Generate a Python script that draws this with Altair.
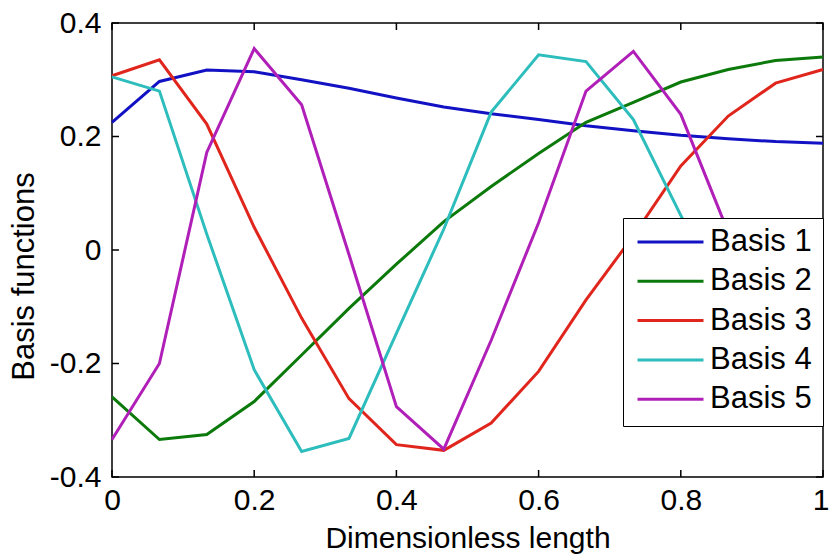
import altair as alt
import pandas as pd

# Sample positions along the dimensionless length (16 nodes)
x_nodes = [0.0, 0.0667, 0.1333, 0.2, 0.2667, 0.3333, 0.4, 0.4667,
           0.5333, 0.6, 0.6667, 0.7333, 0.8, 0.8667, 0.9333, 1.0]

basis_1 = [0.225, 0.297, 0.317, 0.314, 0.300, 0.285, 0.268, 0.252,
           0.240, 0.230, 0.219, 0.210, 0.202, 0.196, 0.191, 0.188]
basis_2 = [-0.259, -0.334, -0.325, -0.267, -0.185, -0.103, -0.025, 0.050,
           0.112, 0.170, 0.225, 0.260, 0.296, 0.318, 0.334, 0.340]
basis_3 = [0.307, 0.335, 0.222, 0.040, -0.120, -0.262, -0.343, -0.353,
           -0.305, -0.214, -0.088, 0.025, 0.148, 0.236, 0.294, 0.318]
basis_4 = [0.305, 0.280, 0.028, -0.211, -0.355, -0.332, -0.147, 0.037,
           0.243, 0.344, 0.332, 0.230, 0.061, -0.100, -0.240, -0.280]
basis_5 = [-0.334, -0.200, 0.172, 0.355, 0.256, -0.008, -0.276, -0.351,
           -0.159, 0.048, 0.280, 0.350, 0.239, 0.031, -0.180, -0.300]

series_names = ["Basis 1", "Basis 2", "Basis 3", "Basis 4", "Basis 5"]
series_values = [basis_1, basis_2, basis_3, basis_4, basis_5]
series_colors = ["#1212c4", "#0b7a0b", "#e0261c", "#2ebdbd", "#b01fb8"]

x_ticks = [0, 0.2, 0.4, 0.6, 0.8, 1]
y_ticks = [-0.4, -0.2, 0, 0.2, 0.4]

FONT = "Liberation Sans"
W, H = 711, 454
TICK = 7

rows = []
for name, vals in zip(series_names, series_values):
    for xv, yv in zip(x_nodes, vals):
        rows.append({"x": xv, "value": yv, "series": name})
df = pd.DataFrame(rows)

x_scale = alt.Scale(domain=[0, 1], nice=False, zero=False)
y_scale = alt.Scale(domain=[-0.4, 0.4], nice=False, zero=False)

lines = alt.Chart(df).mark_line(strokeWidth=3).encode(
    x=alt.X("x:Q", scale=x_scale, title="Dimensionless length",
            axis=alt.Axis(values=x_ticks, labelExpr="datum.value + ''",
                          ticks=False, domain=False, grid=False,
                          labelFont=FONT, labelFontSize=30, labelColor="black",
                          labelPadding=8, labelFlush=False,
                          labelAlign={"expr": "datum.value == 1 ? 'right' : 'center'"},
                          labelOffset={"expr": "datum.value == 1 ? 6 : 0"},
                          titleFont=FONT, titleFontSize=30, titleFontWeight="normal",
                          titleColor="black", titlePadding=8)),
    y=alt.Y("value:Q", scale=y_scale, title="Basis functions",
            axis=alt.Axis(values=y_ticks, labelExpr="datum.value + ''",
                          ticks=False, domain=False, grid=False,
                          labelFont=FONT, labelFontSize=30, labelColor="black",
                          labelPadding=11, labelFlush=False,
                          titleFont=FONT, titleFontSize=31, titleFontWeight="normal",
                          titleColor="black", titleX=-79, titleY=253,
                          titleAlign="center", titleBaseline="alphabetic")),
    color=alt.Color("series:N",
                    scale=alt.Scale(domain=series_names, range=series_colors),
                    legend=alt.Legend(orient="none", legendX=511, legendY=195,
                                      title=None, symbolType="stroke",
                                      symbolSize=4356, symbolStrokeWidth=3,
                                      symbolOffset=2, clipHeight=26,
                                      labelFont=FONT, labelFontSize=31,
                                      labelColor="black", labelOffset=5,
                                      rowPadding=8.3, padding=11,
                                      strokeColor="black", fillColor="white",
                                      cornerRadius=0)),
)

xt = pd.DataFrame({"t": x_ticks})
yt = pd.DataFrame({"t": y_ticks})

# inward tick marks on all four sides of the box
ticks_bottom = alt.Chart(xt).mark_rule(color="black", strokeWidth=1.5).encode(
    x=alt.X("t:Q", scale=x_scale), y=alt.value(H - TICK), y2=alt.value(H))
ticks_top = alt.Chart(xt).mark_rule(color="black", strokeWidth=1.5).encode(
    x=alt.X("t:Q", scale=x_scale), y=alt.value(0), y2=alt.value(TICK))
ticks_left = alt.Chart(yt).mark_rule(color="black", strokeWidth=1.5).encode(
    y=alt.Y("t:Q", scale=y_scale), x=alt.value(0), x2=alt.value(TICK))
ticks_right = alt.Chart(yt).mark_rule(color="black", strokeWidth=1.5).encode(
    y=alt.Y("t:Q", scale=y_scale), x=alt.value(W - TICK), x2=alt.value(W))

chart = alt.layer(lines, ticks_bottom, ticks_top, ticks_left, ticks_right).properties(
    width=W, height=H,
    autosize=alt.AutoSizeParams(type="none"),
    padding={"left": 112, "top": 23, "right": 6, "bottom": 81},
    background="white",
).configure_view(stroke="black", strokeWidth=1.5)

chart.save("out.html", embed_options={"renderer": "svg", "actions": False})
